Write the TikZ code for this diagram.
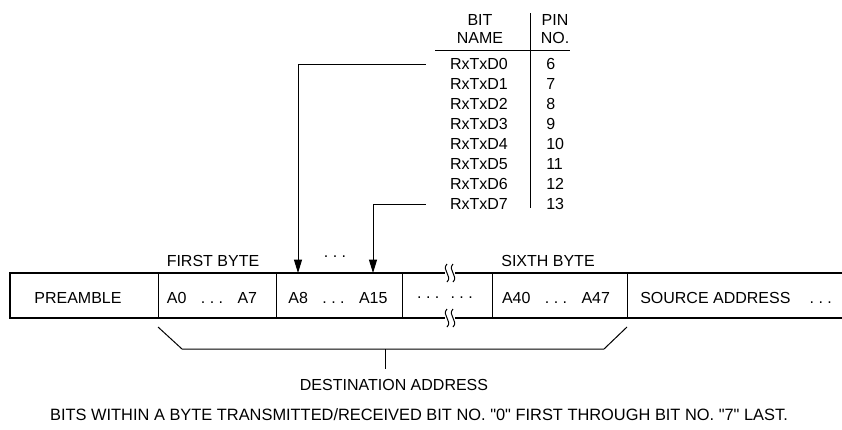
\documentclass[tikz,border=0pt]{standalone}
\usepackage{fontspec}
\setmainfont{Liberation Sans}[Ligatures=TeXOff]
\usetikzlibrary{arrows.meta}

\newcommand{\bitspan}[2]{#1\hspace{0.9em}.\ .\ .\hspace{0.9em}#2}

\begin{document}
\begin{tikzpicture}[x=0.75pt, y=-0.75pt,
    font=\fontsize{12}{14}\selectfont,
    lbl/.style={inner sep=0pt, anchor=center},
    bitname/.style={inner sep=0pt, anchor=center},
    pinno/.style={inner sep=0pt, anchor=west},
    rail/.style={line width=1.6pt},
    thin/.style={line width=0.75pt},
    arrow/.style={thin, -{Triangle[length=10pt,width=6pt]}}
]
\useasboundingbox (0,0) rectangle (842,429);

% pin table
\node[lbl] (bit) at (480,20) {BIT};
\node[lbl] (name) at (480,38) {NAME};
\node[lbl] (pin) at (555,20) {PIN};
\node[lbl] (no) at (555,38) {NO.};
\draw[thin] (435,50) -- (570,50);
\draw[thin] (530,13) -- (530,208);
\foreach \i/\p in {0/6,1/7,2/8,3/9,4/10,5/11,6/12,7/13}{
  \node[bitname] (d\i) at (479,{64+20*\i}) {RxTxD\i};
  \node[pinno] (p\i) at (546,{64+20*\i}) {\p};
}

% address field
\draw[rail] (842,273) -- (10,273) -- (10,318) -- (842,318);
\foreach \x in {158,276,402,492,627}
  \draw[thin] (\x,273) -- (\x,318);
\foreach \y in {273,318}{
  \fill[white] (445,\y-3) rectangle (455,\y+3);
  \draw[thin] (447,\y-9) .. controls (441,\y-3) and (453,\y+3) .. (447,\y+9);
  \draw[thin] (453,\y-9) .. controls (447,\y-3) and (459,\y+3) .. (453,\y+9);
}
\node[lbl] (pre) at (78,298) {PREAMBLE};
\node[lbl] (b1) at (212,298) {\bitspan{A0}{A7}};
\node[lbl] (b2) at (338,298) {\bitspan{A8}{A15}};
\node[lbl] (bx) at (445,298) {.\ .\ .\hspace{0.7em}.\ .\ .};
\node[lbl] (b6) at (556,298) {\bitspan{A40}{A47}};
\node[lbl, anchor=west] (src) at (640,298) {SOURCE ADDRESS\hspace{1.2em}.\ .\ .};

\node[lbl] (first) at (213,261) {FIRST BYTE};
\node[lbl] (mid) at (335,257) {.\ .\ .};
\node[lbl] (sixth) at (548,261) {SIXTH BYTE};

\coordinate (s0) at ([xshift=-18pt]d0.west);
\coordinate (s7) at ([xshift=-18pt]d7.west);
\coordinate (t8) at (298,273);
\coordinate (t15) at (373,273);
\draw[arrow] (s0) -| (t8);
\draw[arrow] (s7) -| (t15);

% destination bracket
\coordinate (bl) at (158,327);
\coordinate (br) at (627,327);
\coordinate (tick) at (385,349);
\node[lbl] (dest) at (394,385) {DESTINATION ADDRESS};
\draw[thin] (bl) -- (182,349) -- (604,349) -- (br);
\draw[thin] (tick) -- ++(0,20);

\node[lbl, font=\fontsize{12.3}{14}\selectfont] (note) at (419,415) {BITS WITHIN A BYTE TRANSMITTED/RECEIVED BIT NO. "0" FIRST THROUGH BIT NO. "7" LAST.};
\end{tikzpicture}
\end{document}
